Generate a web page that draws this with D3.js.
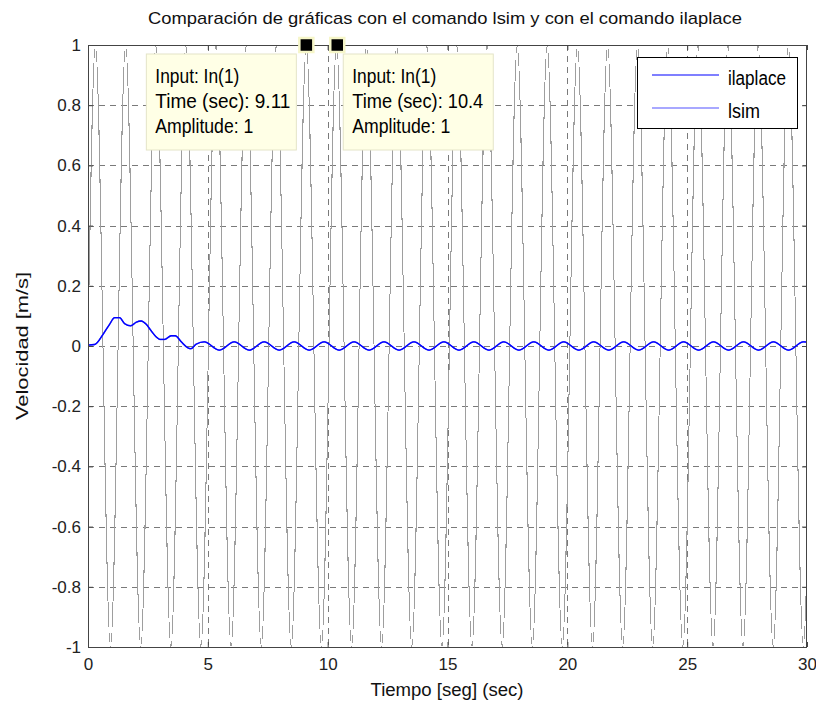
<!DOCTYPE html>
<html><head><meta charset="utf-8">
<script src="https://cdn.jsdelivr.net/npm/d3@7"></script>
<style>body{margin:0;background:#fff} svg{display:block}</style>
</head><body><svg id="c" width="816" height="710"></svg>
<script>
const titleText = "Comparación de gráficas con el comando lsim y con el comando ilaplace";
const xLabelText = "Tiempo [seg] (sec)";
const yLabelText = "Velocidad [m/s]";
const xTicks = [0, 5, 10, 15, 20, 25, 30];
const yTicks = [-1, -0.8, -0.6, -0.4, -0.2, 0, 0.2, 0.4, 0.6, 0.8, 1];
const yTickLabels = ["-1", "-0.8", "-0.6", "-0.4", "-0.2", "0", "0.2", "0.4", "0.6", "0.8", "1"];

// Input In(1): peaks and troughs
const inputTimes = [0, 0.31, 0.94, 1.57, 2.2, 2.83, 3.46, 4.08, 4.71, 5.34, 5.97, 6.6, 7.23, 7.85, 8.48, 9.11, 9.74,
  10.37, 11.0, 11.62, 12.25, 12.88, 13.51, 14.14, 14.77, 15.39, 16.02, 16.65, 17.28, 17.91, 18.54, 19.16, 19.79,
  20.42, 21.05, 21.68, 22.31, 22.93, 23.56, 24.19, 24.82, 25.45, 26.08, 26.7, 27.33, 27.96, 28.59, 29.22, 29.85, 30];
const inputValues = [0, 1, -1, 1, -1, 1, -1, 1, -1, 1, -1, 1, -1, 1, -1, 1, -1,
  1, -1, 1, -1, 1, -1, 1, -1, 1, -1, 1, -1, 1, -1, 1, -1,
  1, -1, 1, -1, 1, -1, 1, -1, 1, -1, 1, -1, 1, -1, 1, -1, -0.72];

// Velocity response (ilaplace and lsim overlap)
const velTimes = [0, 0.28, 0.63, 0.9, 1.11, 1.32, 1.53, 1.78, 2.01, 2.22, 2.43, 2.64, 2.85, 3.0, 3.2, 3.47, 3.64, 3.89,
  4.17, 4.3, 4.51, 4.85, 5.48, 6.1, 6.73, 7.35, 7.98, 8.6, 9.23, 9.85, 10.48, 11.1, 11.73, 12.35, 12.98, 13.6, 14.23,
  14.85, 15.48, 16.1, 16.73, 17.35, 17.98, 18.6, 19.23, 19.85, 20.48, 21.1, 21.73, 22.35, 22.98, 23.6, 24.23, 24.85,
  25.48, 26.1, 26.73, 27.35, 27.98, 28.6, 29.23, 29.85, 30];
const ilaplaceValues = [0.003, 0.005, 0.039, 0.072, 0.094, 0.094, 0.074, 0.067, 0.079, 0.083, 0.072, 0.05, 0.03, 0.022, 0.022, 0.034, 0.034, 0.014,
  -0.006, -0.009, 0.006, 0.014, -0.014, 0.014, -0.014, 0.014, -0.014, 0.014, -0.014, 0.014, -0.014, 0.014, -0.014, 0.014, -0.014, 0.014, -0.014,
  0.014, -0.014, 0.014, -0.014, 0.014, -0.014, 0.014, -0.014, 0.014, -0.014, 0.014, -0.014, 0.014, -0.014, 0.014, -0.014, 0.014,
  -0.014, 0.014, -0.014, 0.014, -0.014, 0.014, -0.014, 0.014, 0.013];
const lsimValues = [0.003, 0.005, 0.039, 0.072, 0.094, 0.094, 0.074, 0.067, 0.079, 0.083, 0.072, 0.05, 0.03, 0.022, 0.022, 0.034, 0.034, 0.014,
  -0.006, -0.009, 0.006, 0.014, -0.014, 0.014, -0.014, 0.014, -0.014, 0.014, -0.014, 0.014, -0.014, 0.014, -0.014, 0.014, -0.014, 0.014, -0.014,
  0.014, -0.014, 0.014, -0.014, 0.014, -0.014, 0.014, -0.014, 0.014, -0.014, 0.014, -0.014, 0.014, -0.014, 0.014, -0.014, 0.014,
  -0.014, 0.014, -0.014, 0.014, -0.014, 0.014, -0.014, 0.014, 0.013];
const seriesNames = ["ilaplace", "lsim"];

const tipTimes = [9.11, 10.4];
const tipValues = [1, 1];
const tipLabels = [["Input: In(1)", "Time (sec): 9.11", "Amplitude: 1"], ["Input: In(1)", "Time (sec): 10.4", "Amplitude: 1"]];

const svg = d3.select("#c");
const L = 88, R = 807, T = 45, B = 647;
const x = d3.scaleLinear().domain([0, 30]).range([L, R]);
const y = d3.scaleLinear().domain([-1, 1]).range([B, T]);
const FONT = "'Liberation Sans', Arial, sans-serif";
const NARROW = "'Liberation Sans Narrow', 'Arial Narrow', 'Liberation Sans', Arial, sans-serif";

svg.append("rect").attr("width", 816).attr("height", 710).attr("fill", "#fff");
svg.append("rect").attr("x", L).attr("y", T).attr("width", R - L).attr("height", B - T).attr("fill", "#fff");

svg.append("defs").append("clipPath").attr("id", "clip")
  .append("rect").attr("x", L).attr("y", T).attr("width", R - L).attr("height", B - T);

// grid
const grid = svg.append("g").attr("stroke", "#7a7a7a").attr("stroke-width", 1).attr("stroke-dasharray", "6,5")
  .attr("shape-rendering", "crispEdges");
grid.selectAll(".gx").data(xTicks.slice(1, -1)).join("line")
  .attr("x1", d => Math.round(x(d)) + 0.5).attr("x2", d => Math.round(x(d)) + 0.5).attr("y1", T).attr("y2", B);
grid.selectAll(".gy").data(yTicks.slice(1, -1)).join("line")
  .attr("y1", d => Math.round(y(d)) + 0.5).attr("y2", d => Math.round(y(d)) + 0.5).attr("x1", L).attr("x2", R);

const plot = svg.append("g").attr("clip-path", "url(#clip)");

// input
const inLine = d3.line().x((d, i) => x(inputTimes[i])).y(d => y(d)).curve(d3.curveMonotoneX);
plot.append("path").attr("d", inLine(inputValues)).attr("fill", "none").attr("stroke", "#9e9e9e")
  .attr("stroke-width", 1).attr("shape-rendering", "crispEdges");

// velocity
const velLine = d3.line().x((d, i) => x(velTimes[i])).y(d => y(d)).curve(d3.curveMonotoneX);
const seriesColors = ["#0000ff", "#5252ff"];
plot.append("path").attr("d", velLine(lsimValues)).attr("fill", "none").attr("stroke", seriesColors[1]).attr("stroke-width", 1.5);
plot.append("path").attr("d", velLine(ilaplaceValues)).attr("fill", "none").attr("stroke", seriesColors[0]).attr("stroke-width", 1.3);

// axes (ticks inside)
function styleAxis(g) {
  g.select(".domain").remove();
  g.selectAll(".tick line").attr("stroke", "#444");
  g.selectAll(".tick text").attr("fill", "#222").attr("font-family", FONT).attr("font-size", 17);
}
svg.append("g").attr("transform", `translate(0,${B})`)
  .call(d3.axisBottom(x).tickValues(xTicks).tickSizeInner(-5).tickSizeOuter(0).tickPadding(11).tickFormat(d3.format("d")))
  .call(styleAxis);
svg.append("g").attr("transform", `translate(0,${T})`)
  .call(d3.axisTop(x).tickValues(xTicks).tickSizeInner(-5).tickSizeOuter(0).tickFormat(""))
  .call(styleAxis);
svg.append("g").attr("transform", `translate(${L},0)`)
  .call(d3.axisLeft(y).tickValues(yTicks).tickSizeInner(-5).tickSizeOuter(0).tickPadding(7).tickFormat((d, i) => yTickLabels[i]))
  .call(styleAxis);
svg.append("g").attr("transform", `translate(${R},0)`)
  .call(d3.axisRight(y).tickValues(yTicks).tickSizeInner(-5).tickSizeOuter(0).tickFormat(""))
  .call(styleAxis);

// box
svg.append("rect").attr("x", L + 0.5).attr("y", T + 0.5).attr("width", R - L - 1).attr("height", B - T)
  .attr("fill", "none").attr("stroke", "#444").attr("stroke-width", 1);

// title and labels
svg.append("text").attr("x", 445).attr("y", 24).attr("text-anchor", "middle")
  .attr("font-family", FONT).attr("font-size", 17).attr("fill", "#111")
  .attr("textLength", 594).attr("lengthAdjust", "spacingAndGlyphs").text(titleText);
svg.append("text").attr("x", 447).attr("y", 696).attr("text-anchor", "middle")
  .attr("font-family", FONT).attr("font-size", 18).attr("fill", "#111")
  .attr("textLength", 153).attr("lengthAdjust", "spacingAndGlyphs").text(xLabelText);
svg.append("text").attr("transform", "translate(28,346) rotate(-90)").attr("text-anchor", "middle")
  .attr("font-family", FONT).attr("font-size", 17).attr("fill", "#111")
  .attr("textLength", 148).attr("lengthAdjust", "spacingAndGlyphs").text(yLabelText);

// data tips
const tipW = 150, tipH = 96;
const tipLeft = [x(tipTimes[0]) - 10 - tipW, x(tipTimes[1]) + 6];
const tipTextLen = [[84, 135, 98], [84, 131, 98]];
tipTimes.forEach((t, k) => {
  const g = svg.append("g").attr("transform", `translate(${tipLeft[k]},${y(tipValues[k]) + 9})`);
  g.append("rect").attr("width", tipW).attr("height", tipH).attr("fill", "#ffffe6").attr("stroke", "#e4e4c8").attr("stroke-width", 1);
  tipLabels[k].forEach((s, j) => {
    g.append("text").attr("x", 9).attr("y", 29 + 25 * j).attr("font-family", NARROW).attr("font-size", 20)
      .attr("fill", "#000").attr("textLength", tipTextLen[k][j]).attr("lengthAdjust", "spacingAndGlyphs").text(s);
  });
});
svg.selectAll(".mk").data(tipTimes).join("rect")
  .attr("x", d => x(d) - 7).attr("y", (d, i) => y(tipValues[i]) - 7).attr("width", 14).attr("height", 14)
  .attr("fill", "#000").attr("stroke", "#f6f6c8").attr("stroke-width", 2.5);

// legend
const lg = svg.append("g").attr("transform", "translate(637,57)");
lg.append("rect").attr("x", 0.5).attr("y", 0.5).attr("width", 160).attr("height", 71).attr("fill", "#fff").attr("stroke", "#000").attr("stroke-width", 1);
const legLen = [58, 32];
seriesNames.forEach((name, i) => {
  const yy = 18 + 33 * i;
  lg.append("line").attr("x1", 15).attr("x2", 82).attr("y1", yy).attr("y2", yy).attr("stroke", seriesColors[i]).attr("stroke-width", 1.2);
  lg.append("text").attr("x", 91).attr("y", yy + 10).attr("font-family", NARROW).attr("font-size", 20).attr("fill", "#000")
    .attr("textLength", legLen[i]).attr("lengthAdjust", "spacingAndGlyphs").text(name);
});
</script></body></html>
